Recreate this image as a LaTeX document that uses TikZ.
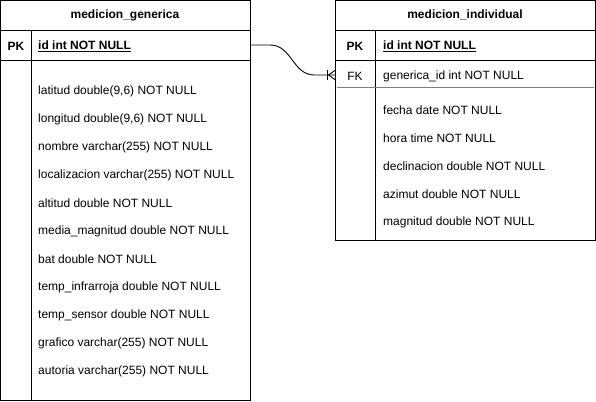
\documentclass[tikz,border=0pt]{standalone}
\usepackage{fontspec}
\setmainfont{Liberation Sans}
\usepackage{tikz}
\tikzset{rowline/.style={line width=0.9pt}}
\tikzset{fkline/.style={line width=1.3pt, draw=black!50}}
\tikzset{relation/.style={line width=0.9pt}}
\tikzset{field/.style={anchor=west, yshift=-1.5pt}}

\begin{document}
\begin{tikzpicture}[x=1pt, y=-1pt]
	% Default action for each node
	\tikzstyle{every node}=[inner sep=0pt, font=\fontsize{12}{14}\selectfont];
	\useasboundingbox (0,0) rectangle (596,401);

	% LHS table
	\coordinate (lhs nw) at (0.5,0.5);		\coordinate (lhs ne) at (250,0.5);
	\coordinate (lhs head w) at (0.5,30);	\coordinate (lhs head e) at (250,30);
	\coordinate (lhs pk w) at (0.5,60);		\coordinate (lhs pk e) at (250,60);
	\coordinate (lhs sw) at (0.5,400);		\coordinate (lhs se) at (250,400);
	\coordinate (lhs div top) at (31,30);	\coordinate (lhs div bottom) at (31,400);
	\coordinate (lhs key out) at (250,45);

	\node (lhs title) at (125,15) {\textbf{medicion\_generica}};
	\node (lhs pk) at (16,46) {\textbf{PK}};
	\node[field] (lhs id) at (38,45) {\underline{\textbf{id int NOT NULL}}};

	\node[field] (r1) at (38,90) {latitud double(9,6) NOT NULL};
	\node[field] (r2) at (38,118) {longitud double(9,6) NOT NULL};
	\node[field] (r3) at (38,146) {nombre varchar(255) NOT NULL};
	\node[field] (r4) at (38,174) {localizacion varchar(255) NOT NULL};
	\node[field] (r5) at (38,202) {altitud double NOT NULL};
	\node[field] (r6) at (38,230) {media\_magnitud double NOT NULL};
	\node[field] (r7) at (38,258) {bat double NOT NULL};
	\node[field] (r8) at (38,286) {temp\_infrarroja double NOT NULL};
	\node[field] (r9) at (38,314) {temp\_sensor double NOT NULL};
	\node[field] (r10) at (38,342) {grafico varchar(255) NOT NULL};
	\node[field] (r11) at (38,370) {autoria varchar(255) NOT NULL};

	% RHS table
	\coordinate (rhs nw) at (335.5,0.5);	\coordinate (rhs ne) at (595,0.5);
	\coordinate (rhs head w) at (335.5,30);	\coordinate (rhs head e) at (595,30);
	\coordinate (rhs pk w) at (335.5,60);	\coordinate (rhs pk e) at (595,60);
	\coordinate (rhs fk w) at (337,87.5);	\coordinate (rhs fk e) at (594,87.5);
	\coordinate (rhs sw) at (335.5,240);	\coordinate (rhs se) at (595,240);
	\coordinate (rhs div top) at (375.5,30);	\coordinate (rhs div bottom) at (375.5,240);
	\coordinate (rhs key in) at (335.5,75);

	\node (rhs title) at (465,15) {\textbf{medicion\_individual}};
	\node (rhs pk) at (355,46) {\textbf{PK}};
	\node[field] (rhs id) at (383,45) {\underline{\textbf{id int NOT NULL}}};
	\node (rhs fk) at (355,76) {FK};
	\node[field] (rhs gid) at (383,75) {generica\_id int NOT NULL};

	\node[field] (s1) at (383,109) {fecha date NOT NULL};
	\node[field] (s2) at (383,137) {hora time NOT NULL};
	\node[field] (s3) at (383,165) {declinacion double NOT NULL};
	\node[field] (s4) at (383,193) {azimut double NOT NULL};
	\node[field] (s5) at (383,221) {magnitud double NOT NULL};

	% Borders
	\draw[rowline] (lhs nw) -- (lhs ne) -- (lhs se) -- (lhs sw) -- cycle;
	\draw[rowline] (lhs head w) -- (lhs head e);
	\draw[rowline] (lhs pk w) -- (lhs pk e);
	\draw[rowline] (lhs div top) -- (lhs div bottom);

	\draw[rowline] (rhs nw) -- (rhs ne) -- (rhs se) -- (rhs sw) -- cycle;
	\draw[rowline] (rhs head w) -- (rhs head e);
	\draw[rowline] (rhs pk w) -- (rhs pk e);
	\draw[rowline] (rhs div top) -- (rhs div bottom);
	\draw[fkline] (rhs fk w) -- (rhs fk e);

	% Relation
	\draw[relation] (lhs key out) -- ++(20,0) .. controls +(22,0) and +(-22,0) .. ([xshift=-21pt]rhs key in) -- (rhs key in);
	\draw[relation] ([xshift=-8pt,yshift=-5pt]rhs key in) -- ([xshift=-8pt,yshift=5pt]rhs key in);
	\draw[relation] ([yshift=-5pt]rhs key in) -- ([xshift=-7pt]rhs key in) -- ([yshift=5pt]rhs key in);
\end{tikzpicture}
\end{document}
